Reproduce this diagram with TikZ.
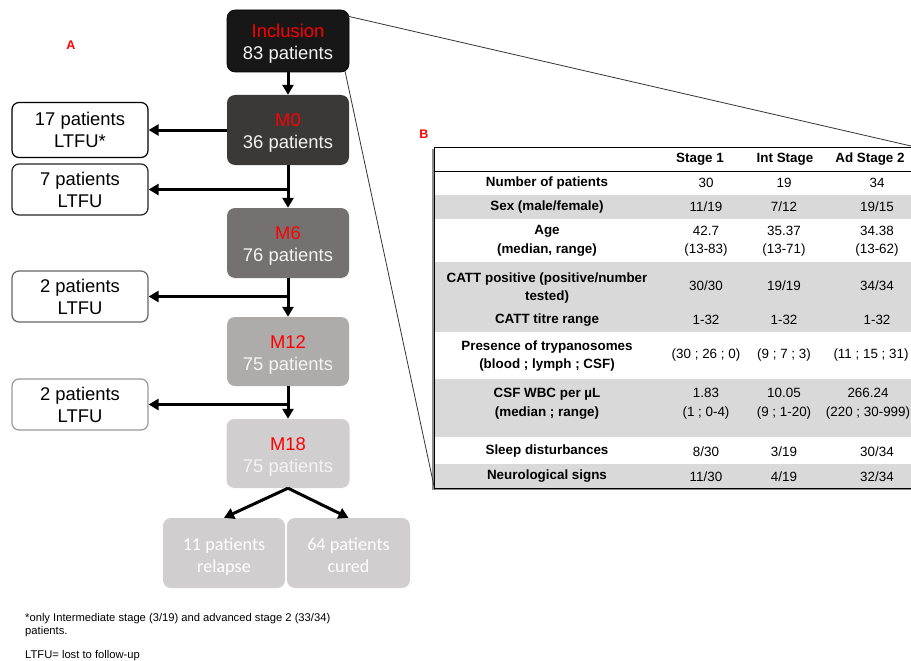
\documentclass[tikz,border=0pt]{standalone}
\usepackage{fontspec}
\setmainfont{Liberation Sans}
\newfontfamily\calib{Carlito}
\usetikzlibrary{arrows.meta}
\definecolor{cInc}{HTML}{171717}
\definecolor{cM0}{HTML}{3B3838}
\definecolor{cM6}{HTML}{767171}
\definecolor{cM12}{HTML}{AEABAB}
\definecolor{cM18}{HTML}{D0CECE}
\definecolor{cRed}{HTML}{FF0000}
\definecolor{cRow}{HTML}{D9D9D9}
\definecolor{cTxt}{HTML}{F4F4F4}
\newcommand\tup{\rule{0pt}{19.5pt}}
\tikzset{
  mainbox/.style={fill=#1, rounded corners=8pt, minimum width=122pt, minimum height=70pt,
    align=center, inner sep=0pt, text=cTxt, font=\fontsize{18.4}{22}\selectfont},
  sidebox/.style={draw=#1, line width=1.2pt, fill=white, rounded corners=7pt,
    minimum width=136pt, minimum height=51pt, align=center, inner sep=0pt,
    text=black, font=\fontsize{18.4}{22}\selectfont},
  endbox/.style={fill=cM18, rounded corners=8pt, minimum width=122pt, minimum height=70pt,
    align=center, inner sep=0pt, text=white, font=\calib\fontsize{18.2}{22}\selectfont},
  arr/.style={line width=3pt, -{Triangle[length=10pt,width=11pt]}},
  zoomline/.style={line width=0.8pt, draw=black!80},
  tlab/.style={font=\bfseries\fontsize{13.4}{18.5}\selectfont, align=center, inner sep=0pt},
  tval/.style={font=\fontsize{13.4}{18.5}\selectfont, align=center, inner sep=0pt},
  panel/.style={font=\bfseries\fontsize{12.5}{14}\selectfont, text=cRed, inner sep=0pt},
  foot/.style={font=\fontsize{11.2}{13.5}\selectfont, align=left, inner sep=0pt, anchor=west}
}
\begin{document}
\begin{tikzpicture}[x=1pt,y=-1pt]
\useasboundingbox (0,0) rectangle (911,661);
\clip (0,0) rectangle (911,661);

% ---------- Panel labels ----------
\node[panel] (labA) at (71,45) {A};
\node[panel] (labB) at (424,134) {B};

% ---------- Flow boxes ----------
\node[mainbox=cInc, draw=black, line width=0.6pt, minimum height=62pt] (inc) at (288,41)
  {\tup\textcolor{cRed}{Inclusion}\\83 patients};
\node[mainbox=cM0] (m0) at (288,130) {\tup\textcolor{cRed}{M0}\\36 patients};
\node[mainbox=cM6] (m6) at (288,243) {\tup\textcolor{cRed}{M6}\\76 patients};
\node[mainbox=cM12, minimum height=69pt] (m12) at (288,351.5) {\tup\textcolor{cRed}{M12}\\75 patients};
\node[mainbox=cM18, minimum height=69pt, minimum width=123pt] (m18) at (288,453.5) {\tup\textcolor{cRed}{M18}\\75 patients};
\node[endbox] (rel) at (224,553) {\tup 11 patients\\relapse};
\node[endbox, minimum width=123pt] (cur) at (348.5,553) {\tup 64 patients\\cured\vphantom{p}};

\node[sidebox=black, minimum height=55pt] (l1) at (80,130) {17 patients\\LTFU*};
\node[sidebox=black!85] (l2) at (80,189.5) {7 patients\\LTFU};
\node[sidebox=black!60] (l3) at (80,296.5) {2 patients\\LTFU};
\node[sidebox=black!40] (l4) at (80,404.5) {2 patients\\LTFU};

% ---------- Arrows ----------
\coordinate (b1) at (288,189.5);
\coordinate (b2) at (288,296.5);
\coordinate (b3) at (288,404.5);
\draw[arr] (inc.south) -- (m0.north);
\draw[arr] (m0.west) -- (l1.east);
\draw[arr] (m0.south) -- (m6.north);
\draw[arr] (b1) -- (l2.east);
\draw[arr] (m6.south) -- (m12.north);
\draw[arr] (b2) -- (l3.east);
\draw[arr] (m12.south) -- (m18.north);
\draw[arr] (b3) -- (l4.east);
\draw[arr] (m18.south) -- (rel.north);
\draw[arr] (m18.south) -- (cur.north);

% ---------- Table ----------
\coordinate (tNW) at (434,147);
\coordinate (tSE) at (930,488);
\fill[black!45] (432,149) rectangle (930,490);
\fill[white] (tNW) rectangle (tSE);
\fill[cRow] (434,195) rectangle (930,219);
\fill[cRow] (434,262) rectangle (930,332);
\fill[cRow] (434,379) rectangle (930,437);
\fill[cRow] (434,464) rectangle (930,488);
\draw[line width=1pt] (tNW) rectangle (tSE);
\draw[line width=1pt] (434,171) -- (930,171);

% header
\node[tlab] (h1) at (700,159) {Stage 1};
\node[tlab] (h2) at (785,159) {Int Stage};
\node[tlab] (h3) at (870,159) {Ad Stage 2};
% rows
\node[tlab] (r1) at (547,183) {Number of patients};
\node[tval] (r1a) at (706,183) {30};
\node[tval] (r1b) at (784,183) {19};
\node[tval] (r1c) at (877,183) {34};

\node[tlab] (r2) at (547,207) {Sex (male/female)};
\node[tval] (r2a) at (706,207) {11/19};
\node[tval] (r2b) at (784,207) {7/12};
\node[tval] (r2c) at (877,207) {19/15};

\node[tlab] (r3) at (547,241) {Age\\(median, range)};
\node[tval] (r3a) at (706,241) {42.7\\(13-83)};
\node[tval] (r3b) at (784,241) {35.37\\(13-71)};
\node[tval] (r3c) at (877,241) {34.38\\(13-62)};

\node[tlab] (r4) at (547,288) {CATT positive (positive/number\\tested)};
\node[tval] (r4a) at (706,286) {30/30};
\node[tval] (r4b) at (784,286) {19/19};
\node[tval] (r4c) at (877,286) {34/34};

\node[tlab] (r5) at (547,320) {CATT titre range};
\node[tval] (r5a) at (706,320) {1-32};
\node[tval] (r5b) at (784,320) {1-32};
\node[tval] (r5c) at (877,320) {1-32};

\node[tlab] (r6) at (547,356) {Presence of trypanosomes\\(blood ; lymph ; CSF)};
\node[tval] (r6a) at (706,355) {(30 ; 26 ; 0)};
\node[tval] (r6b) at (784,355) {(9 ; 7 ; 3)};
\node[tval] (r6c) at (871,355) {(11 ; 15 ; 31)};

\node[tlab] (r7) at (547,403.5) {CSF WBC per µL\\(median ; range)};
\node[tval] (r7a) at (706,403.5) {1.83\\(1 ; 0-4)};
\node[tval] (r7b) at (784,403.5) {10.05\\(9 ; 1-20)};
\node[tval] (r7c) at (868,403.5) {266.24\\(220 ; 30-999)};

\node[tlab] (r8) at (547,451.5) {Sleep disturbances};
\node[tval] (r8a) at (706,451.5) {8/30};
\node[tval] (r8b) at (784,451.5) {3/19};
\node[tval] (r8c) at (877,451.5) {30/34};

\node[tlab] (r9) at (547,476.5) {Neurological signs};
\node[tval] (r9a) at (706,476.5) {11/30};
\node[tval] (r9b) at (784,476.5) {4/19};
\node[tval] (r9c) at (877,476.5) {32/34};

% ---------- Zoom lines ----------
\coordinate (zs1) at (347,16);
\coordinate (zs2) at (345,71);
\coordinate (zt1) at (911,146);
\coordinate (zt2) at (434,486);
\draw[zoomline] (zs1) -- (zt1);
\draw[zoomline] (zs2) -- (zt2);

% ---------- Footnotes ----------
\node[foot] (fn1) at (25,625) {*only Intermediate stage (3/19) and advanced stage 2 (33/34)\\patients.};
\node[foot] (fn2) at (25,656) {LTFU= lost to follow-up};
\end{tikzpicture}
\end{document}
